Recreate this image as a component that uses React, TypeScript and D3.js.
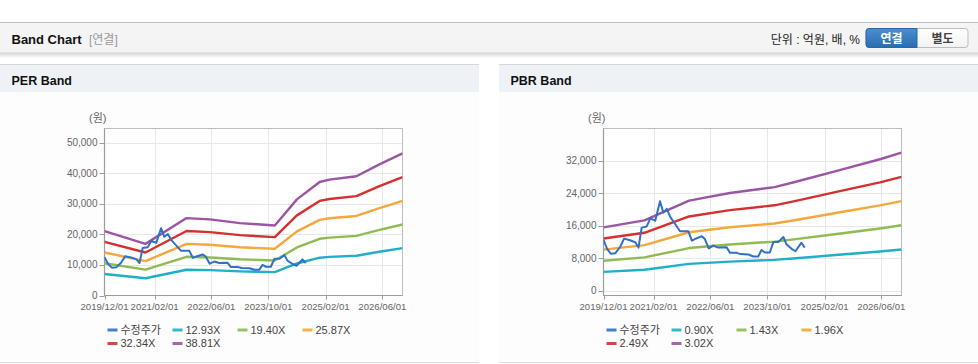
import React from 'react';
import * as d3 from 'd3';

const FONT = "'Liberation Sans', Arial, 'Noto Sans CJK KR', sans-serif";
const KFONT = "'Liberation Sans', Arial, 'Noto Sans CJK KR', sans-serif";

// x axis
const xDomain = ['2019-12-01', '2026-11-20'];
const xTickDates = ['2019-12-01', '2021-02-01', '2022-06-01', '2023-10-01', '2025-02-01', '2026-06-01'];
const xTickLabels = ['2019/12/01', '2021/02/01', '2022/06/01', '2023/10/01', '2025/02/01', '2026/06/01'];

// adjusted price (수정주가)
const priceDates = [
  '2019-12-01', '2020-01-01', '2020-02-01', '2020-03-10', '2020-04-22', '2020-05-25', '2020-07-15',
  '2020-08-28', '2020-09-25', '2020-10-22', '2020-12-04', '2021-01-04', '2021-02-15', '2021-03-28',
  '2021-04-25', '2021-05-25', '2021-06-22', '2021-08-04', '2021-09-15', '2021-11-25', '2021-12-25',
  '2022-02-06', '2022-03-20', '2022-04-15', '2022-05-18', '2022-06-25', '2022-08-07', '2022-10-18',
  '2022-11-15', '2023-01-12', '2023-02-15', '2023-04-22', '2023-06-04', '2023-07-15', '2023-08-12',
  '2023-09-10', '2023-10-22', '2023-11-22', '2024-01-04', '2024-02-15', '2024-03-12', '2024-04-25',
  '2024-05-28', '2024-07-18', '2024-08-15'];
const priceValues = [
  12500, 10300, 9100, 9200, 10800, 12800, 12400,
  11900, 10600, 15500, 15800, 17800, 17200, 22000,
  19200, 20100, 18200, 16400, 14600, 14600, 12300,
  12900, 13400, 12700, 10400, 11100, 10600, 10700,
  9300, 9300, 9000, 8900, 8400, 8400, 10000,
  9400, 9400, 12000, 12000, 13200, 11400, 10300,
  9700, 11800, 10600];

// PER band
const perDates = ['2019-12-01', '2020-11-15', '2021-11-01', '2022-05-20', '2023-02-01', '2023-11-25',
  '2024-06-01', '2024-12-12', '2025-03-06', '2025-10-22', '2026-05-07', '2026-11-20'];
const per1293 = [7021, 5625, 8430, 8288, 7887, 7629, 10473, 12361, 12620, 12995, 14288, 15477];
const per1940 = [10534, 8439, 12649, 12435, 11834, 11446, 15714, 18546, 18934, 19497, 21437, 23222];
const per2587 = [14047, 11253, 16867, 16583, 15781, 15263, 20955, 24732, 25249, 25999, 28586, 30966];
const per3234 = [17561, 14068, 21086, 20730, 19727, 19081, 26195, 30917, 31564, 32502, 35736, 38711];
const per3881 = [21074, 16882, 25304, 24877, 23674, 22898, 31436, 37102, 37879, 39004, 42885, 46456];
const perLabels = ['수정주가', '12.93X', '19.40X', '25.87X', '32.34X', '38.81X'];
const perYTicks = [0, 10000, 20000, 30000, 40000, 50000];

// PBR band
const pbrDates = ['2019-12-01', '2020-11-15', '2021-12-01', '2022-11-15', '2023-12-01', '2024-06-01',
  '2025-06-01', '2026-05-20', '2026-11-20'];
const pbr090 = [4635, 5148, 6597, 7155, 7587, 7983, 8820, 9630, 10116];
const pbr143 = [7365, 8180, 10482, 11369, 12055, 12684, 14014, 15301, 16073];
const pbr196 = [10094, 11211, 14367, 15582, 16523, 17385, 19208, 20972, 22030];
const pbr249 = [12824, 14243, 18252, 19796, 20991, 22086, 24402, 26643, 27988];
const pbr302 = [15553, 17274, 22137, 24009, 25459, 26787, 29596, 32314, 33945];
const pbrLabels = ['수정주가', '0.90X', '1.43X', '1.96X', '2.49X', '3.02X'];
const pbrYTicks = [0, 8000, 16000, 24000, 32000];

const seriesColors = ['#3070c8', '#1fb0c8', '#8ebb52', '#f3a83b', '#d3302f', '#9b55a4'];

const parse = d3.timeParse('%Y-%m-%d');

type PanelProps = {
  x0: number;
  title: string;
  bandDates: string[];
  bands: number[][];
  labels: string[];
  yMin: number;
  yMax: number;
  yTicks: number[];
  id: string;
};

function BandPanel({ x0, title, bandDates, bands, labels, yMin, yMax, yTicks, id }: PanelProps) {
  const left = x0 + 104.5;
  const right = x0 + 402.5;
  const top = 128.5;
  const bottom = 295.5;
  const xs = d3.scaleTime().domain(xDomain.map((d) => parse(d) as Date)).range([left, right]);
  const ys = d3.scaleLinear().domain([yMin, yMax]).range([bottom, top]);
  const line = d3
    .line<[Date, number]>()
    .x((d) => xs(d[0]))
    .y((d) => ys(d[1]));
  const bandDateObjs = bandDates.map((d) => parse(d) as Date);
  const pricePts: [Date, number][] = priceDates.map((d, i) => [parse(d) as Date, priceValues[i]]);
  const fmt = d3.format(',');

  const legendItems = labels.map((l, i) => ({
    label: l,
    color: seriesColors[i],
    x: left + 3 + (i % 4) * 65,
    y: i < 4 ? 330 : 343.5,
  }));

  return (
    <g>
      {/* panel header */}
      <rect x={x0} y={64} width={479} height={1} fill="#d6d6d6" />
      <rect x={x0} y={65} width={479} height={27.5} fill="#eef2f7" />
      <rect x={x0} y={92.5} width={479} height={269.5} fill="#fdfdfd" />
      <rect x={x0} y={362} width={479} height={1} fill="#dcdcdc" />
      <text x={x0 + 11.5} y={84.5} fontFamily={FONT} fontSize={12.5} fontWeight="bold" fill="#111">
        {title}
      </text>
      {/* unit label */}
      <text x={x0 + 89} y={121.5} fontFamily={KFONT} fontSize={11} fill="#666">
        (원)
      </text>
      {/* plot background */}
      <rect x={left} y={top} width={right - left} height={bottom - top} fill="#ffffff" />
      {/* grid */}
      {yTicks.map((t) =>
        Math.abs(ys(t) - bottom) > 1 ? (
          <line key={'gy' + t} x1={left} x2={right} y1={Math.round(ys(t)) + 0.5} y2={Math.round(ys(t)) + 0.5} stroke="#e8e8e8" strokeWidth={1} />
        ) : null
      )}
      {xTickDates.map((d, i) =>
        i > 0 ? (
          <line key={'gx' + d} x1={Math.round(xs(parse(d) as Date)) + 0.5} x2={Math.round(xs(parse(d) as Date)) + 0.5} y1={top} y2={bottom} stroke="#e8e8e8" strokeWidth={1} />
        ) : null
      )}
      {/* frame */}
      <rect x={left} y={top} width={right - left} height={bottom - top} fill="none" stroke="#bdbdbd" strokeWidth={1} />
      <line x1={left} x2={left} y1={top} y2={bottom} stroke="#9c9c9c" strokeWidth={1.2} />
      <line x1={left} x2={right} y1={bottom} y2={bottom} stroke="#9c9c9c" strokeWidth={1.2} />
      {/* y ticks */}
      {yTicks.map((t) => (
        <g key={'yt' + t}>
          <line x1={left - 5} x2={left} y1={Math.round(ys(t)) + 0.5} y2={Math.round(ys(t)) + 0.5} stroke="#9c9c9c" />
          <text x={left - 7} y={ys(t)} dy="0.35em" textAnchor="end" fontFamily={FONT} fontSize={10} fill="#666">
            {fmt(t)}
          </text>
        </g>
      ))}
      {/* x ticks */}
      {xTickDates.map((d, i) => {
        const x = xs(parse(d) as Date);
        return (
          <g key={'xt' + d}>
            <line x1={Math.round(x) + 0.5} x2={Math.round(x) + 0.5} y1={bottom} y2={bottom + 4} stroke="#9c9c9c" />
            <text x={x} y={310} textAnchor="middle" fontFamily={FONT} fontSize={9.6} fill="#666">
              {xTickLabels[i]}
            </text>
          </g>
        );
      })}
      <defs>
        <clipPath id={id}>
          <rect x={left} y={top} width={right - left} height={bottom - top} />
        </clipPath>
      </defs>
      <g clipPath={`url(#${id})`}>
        {bands.map((vals, bi) => (
          <path
            key={'b' + bi}
            d={line(bandDateObjs.map((d, i) => [d, vals[i]] as [Date, number])) || ''}
            fill="none"
            stroke={seriesColors[bi + 1]}
            strokeWidth={2.4}
            strokeLinejoin="round"
          />
        ))}
        <path d={line(pricePts) || ''} fill="none" stroke={seriesColors[0]} strokeWidth={2} strokeLinejoin="round" />
      </g>
      {/* legend */}
      {legendItems.map((it) => (
        <g key={'lg' + it.label}>
          <rect x={it.x} y={it.y - 1.5} width={10} height={3} fill={it.color} opacity={0.9} />
          <text x={it.x + 13} y={it.y} dy="0.36em" fontFamily={KFONT} fontSize={11} fill="#444">
            {it.label}
          </text>
        </g>
      ))}
    </g>
  );
}

export default function App() {
  return (
    <div style={{ position: 'absolute', left: 0, top: 0, width: 978, height: 364, background: '#fff' }}>
      <svg width={978} height={364} style={{ display: 'block' }}>
        <defs>
          <linearGradient id="shadow" x1="0" y1="0" x2="0" y2="1">
            <stop offset="0" stopColor="#000" stopOpacity={0.13} />
            <stop offset="1" stopColor="#000" stopOpacity={0} />
          </linearGradient>
          <linearGradient id="btnBlue" x1="0" y1="0" x2="0" y2="1">
            <stop offset="0" stopColor="#4a8fd0" />
            <stop offset="1" stopColor="#2a6cb0" />
          </linearGradient>
          <linearGradient id="btnWhite" x1="0" y1="0" x2="0" y2="1">
            <stop offset="0" stopColor="#ffffff" />
            <stop offset="1" stopColor="#f2f2f2" />
          </linearGradient>
        </defs>
        <rect x={0} y={0} width={978} height={364} fill="#ffffff" />
        {/* top header */}
        <rect x={0} y={22} width={978} height={1.2} fill="#bdbdbd" />
        <rect x={0} y={23} width={978} height={30} fill="#f4f4f4" />
        <rect x={0} y={52.5} width={978} height={1} fill="#d2d2d2" />
        <rect x={0} y={53.5} width={978} height={5} fill="url(#shadow)" />
        <text x={11.5} y={43.5} fontFamily={FONT} fontSize={13} fontWeight="bold" fill="#111">
          Band Chart
        </text>
        <text x={89} y={43.5} fontFamily={KFONT} fontSize={12} fill="#999">
          [연결]
        </text>
        <text x={860} y={43.5} textAnchor="end" fontFamily={KFONT} fontSize={12} fill="#222">
          단위 : 억원, 배, %
        </text>
        <rect x={866} y={28.5} width={102} height={19} rx={3} fill="url(#btnWhite)" stroke="#bcbcbc" />
        <path d="M869,28.5 H917 V47.5 H869 A3,3 0 0 1 866,44.5 V31.5 A3,3 0 0 1 869,28.5 Z" fill="url(#btnBlue)" stroke="#2a66a8" />
        <text x={891.5} y={42.5} textAnchor="middle" fontFamily={KFONT} fontSize={12} fontWeight="bold" fill="#fff">
          연결
        </text>
        <text x={942.5} y={42.5} textAnchor="middle" fontFamily={KFONT} fontSize={12} fontWeight="bold" fill="#444">
          별도
        </text>
        <BandPanel
          x0={0}
          id="clipPer"
          title="PER Band"
          bandDates={perDates}
          bands={[per1293, per1940, per2587, per3234, per3881]}
          labels={perLabels}
          yMin={0}
          yMax={54600}
          yTicks={perYTicks}
        />
        <BandPanel
          x0={499}
          id="clipPbr"
          title="PBR Band"
          bandDates={pbrDates}
          bands={[pbr090, pbr143, pbr196, pbr249, pbr302]}
          labels={pbrLabels}
          yMin={-1180}
          yMax={39870}
          yTicks={pbrYTicks}
        />
      </svg>
    </div>
  );
}
